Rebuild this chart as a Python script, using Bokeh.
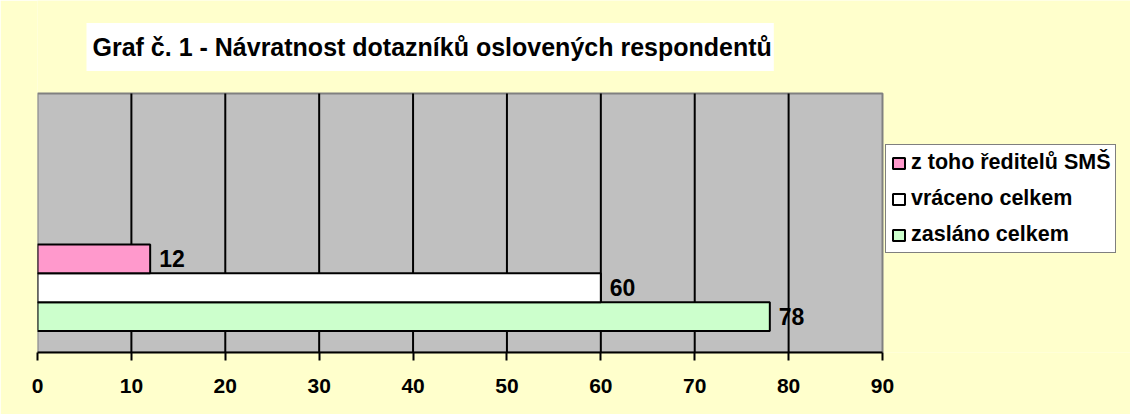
from bokeh.plotting import figure
from bokeh.models import Range1d, FixedTicker, Legend, LegendItem, Label, ColumnDataSource
from bokeh.core.properties import value
from bokeh.embed import file_html
from bokeh.resources import INLINE

# ---- data ----
series = ["zasláno celkem", "vráceno celkem", "z toho ředitelů SMŠ"]
values = [78, 60, 12]
colors = ["#CCFFCC", "#FFFFFF", "#FF99CC"]
ticks = [0, 10, 20, 30, 40, 50, 60, 70, 80, 90]
title_text = "Graf č. 1 - Návratnost dotazníků oslovených respondentů"

FONT = "Liberation Sans"
W, H = 1130, 414
# pixel layout of the plot area (value 0 / 90 and top / bottom)
PX_LEFT, PX_RIGHT, PX_TOP, PX_BOTTOM = 37, 882, 93, 352

n = len(series)
bar_h = 1 / (n + 1.5)   # Excel gap width 150 %
ys = [0.5 + (i - (n - 1) / 2) * bar_h for i in range(n)]
xmin, xmax = ticks[0], ticks[-1]
ycats = 2  # two category slots, the lower one holds the cluster

x_end = xmin + (xmax - xmin) * (W - PX_LEFT) / (PX_RIGHT - PX_LEFT)
y_end = ycats * PX_BOTTOM / (PX_BOTTOM - PX_TOP)

p = figure(width=W, height=H, output_backend="svg", toolbar_location=None,
           title=None,
           x_range=Range1d(xmin, x_end), y_range=Range1d(0, y_end),
           min_border_left=PX_LEFT, min_border_right=0, min_border_top=0,
           min_border_bottom=H - PX_BOTTOM)

p.background_fill_color = "#FFFFCC"
p.border_fill_color = "#FFFFCC"
p.outline_line_color = None

p.yaxis.visible = False
p.ygrid.grid_line_color = None
p.xgrid.grid_line_color = None

# plot area
p.quad(left=[xmin], right=[xmax], bottom=[0], top=[ycats],
       fill_color="#C0C0C0", line_color="#808080", line_width=2)
# vertical gridlines
inner = ticks[1:-1]
p.segment(x0=inner, y0=[0] * len(inner), x1=inner, y1=[ycats] * len(inner),
          line_color="black", line_width=2)

ax = p.xaxis[0]
ax.ticker = FixedTicker(ticks=ticks)
ax.bounds = (xmin, xmax)
ax.axis_line_color = "black"
ax.axis_line_width = 2
ax.major_tick_line_color = "black"
ax.major_tick_line_width = 2
ax.major_tick_out = 8
ax.major_tick_in = 0
ax.minor_tick_line_color = None
ax.major_label_text_font = FONT
ax.major_label_text_font_style = "bold"
ax.major_label_text_font_size = "21px"
ax.major_label_text_color = "black"
ax.major_label_standoff = 18

renderers = []
for i in range(n):
    src = ColumnDataSource(dict(y=[ys[i]], right=[values[i]], lab=[str(values[i])]))
    r = p.hbar(y="y", right="right", left=0, height=bar_h, source=src,
               fill_color=colors[i], line_color="black", line_width=2)
    renderers.append(r)
    p.text(x="right", y="y", text="lab", source=src, x_offset=9,
           text_font=value(FONT), text_font_style="bold", text_font_size="23px",
           text_baseline="middle", text_align="left", text_color="black")

items = [LegendItem(label=series[i], renderers=[renderers[i]]) for i in reversed(range(n))]
legend = Legend(items=items, location=(885 - PX_LEFT, PX_BOTTOM - 253),
                orientation="vertical")
legend.border_line_color = "black"
legend.border_line_width = 1.5
legend.background_fill_color = "white"
legend.background_fill_alpha = 1
legend.label_text_font = FONT
legend.label_text_font_style = "bold"
legend.label_text_font_size = "21.5px"
legend.label_text_color = "black"
legend.glyph_width = 15
legend.glyph_height = 14
legend.label_height = 20
legend.label_standoff = 5
legend.spacing = 11
legend.padding = 5
legend.margin = 0
p.add_layout(legend, "center")

scale_x = (xmax - xmin) / (PX_RIGHT - PX_LEFT)
scale_y = ycats / (PX_BOTTOM - PX_TOP)
title = Label(x=xmin + (86 - PX_LEFT) * scale_x, y=(PX_BOTTOM - 46.5) * scale_y,
              text=title_text, text_font=FONT,
              text_font_style="bold", text_font_size="25px", text_color="black",
              text_baseline="middle", text_align="left",
              background_fill_color="white",
              padding=dict(left=6, right=2, top=10, bottom=10))
p.add_layout(title)

open("out.html", "w").write(file_html(p, INLINE))
